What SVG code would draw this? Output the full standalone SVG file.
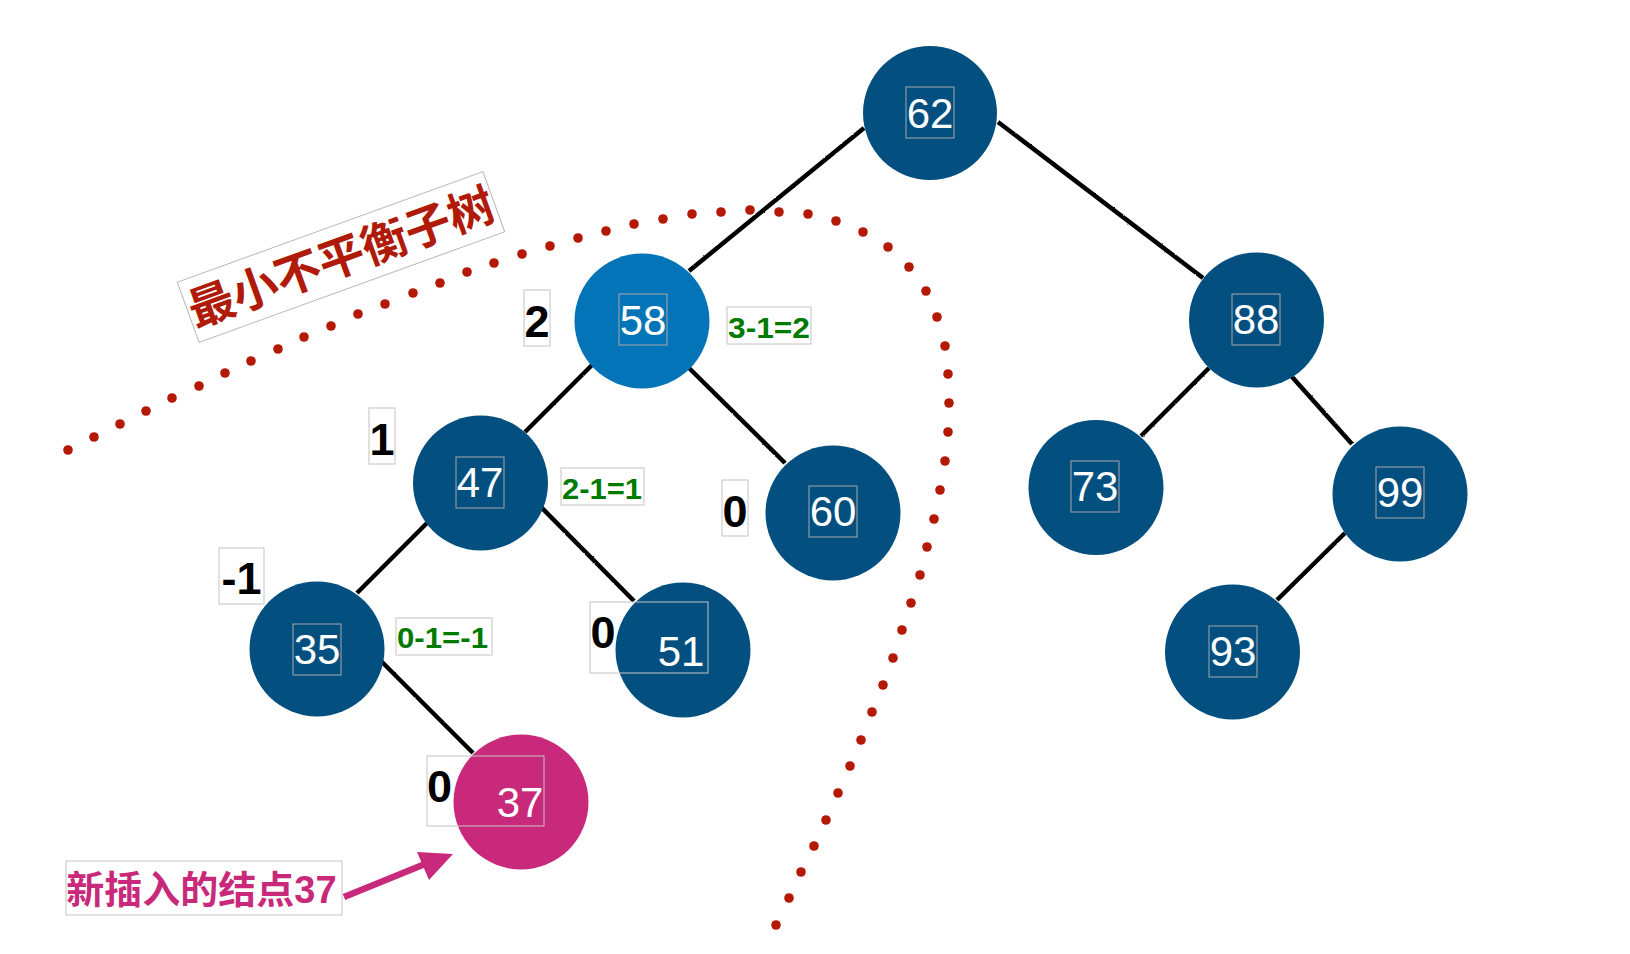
<svg xmlns="http://www.w3.org/2000/svg" width="1630" height="954" viewBox="0 0 1630 954">
<style>
.node{fill:#035080}
.sel{fill:#0274B7}
.newn{fill:#C9297A}
.nbox{fill:none;stroke:#a8a8a8;stroke-width:1}
.lbox{fill:#fff;stroke:#c4c4c4;stroke-width:1}
.lboxn{fill:none;stroke:#c4c4c4;stroke-width:1}
.ntext{font-family:"Liberation Sans","Noto Sans",sans-serif;font-size:42px;fill:#fff;text-anchor:middle}
.bf{font-family:"Liberation Sans","Noto Sans",sans-serif;font-size:45px;font-weight:bold;fill:#000;text-anchor:middle}
.eq{font-family:"Liberation Sans","Noto Sans",sans-serif;font-size:30px;font-weight:bold;fill:#007A00}
.edge{stroke:#000;stroke-width:4.5;stroke-linecap:butt;fill:none}
.dot{fill:#B41905}
</style>
<defs>
<filter id="rough" filterUnits="userSpaceOnUse" x="0" y="0" width="1630" height="954">
<feTurbulence type="fractalNoise" baseFrequency="0.9" numOctaves="1" seed="3" result="n"/>
<feDisplacementMap in="SourceGraphic" in2="n" scale="2" xChannelSelector="R" yChannelSelector="G"/>
</filter>
</defs>
<rect x="0" y="0" width="1630" height="954" fill="#fff"/>

<g id="connectors" filter="url(#rough)">
<line class="edge" x1="864" y1="128" x2="689" y2="271"/>
<line class="edge" x1="998" y1="122" x2="1203" y2="278"/>
<line class="edge" x1="593" y1="364" x2="525" y2="432"/>
<line class="edge" x1="689" y1="368" x2="785" y2="463"/>
<line class="edge" x1="427" y1="523" x2="357" y2="593"/>
<line class="edge" x1="539" y1="505" x2="634" y2="601"/>
<line class="edge" x1="377" y1="657" x2="473" y2="753"/>
<line class="edge" x1="1209" y1="368" x2="1141" y2="436"/>
<line class="edge" x1="1285" y1="369" x2="1352" y2="444"/>
<line class="edge" x1="1345" y1="533" x2="1277" y2="600"/>
</g>

<g id="boundary">
<circle class="dot" r="4.8" cx="68" cy="450"/><circle class="dot" r="4.8" cx="94" cy="437"/><circle class="dot" r="4.8" cx="120" cy="424"/><circle class="dot" r="4.8" cx="146" cy="411"/><circle class="dot" r="4.8" cx="172" cy="398"/><circle class="dot" r="4.8" cx="199" cy="386"/><circle class="dot" r="4.8" cx="225" cy="373"/><circle class="dot" r="4.8" cx="251" cy="361"/><circle class="dot" r="4.8" cx="278" cy="349"/><circle class="dot" r="4.8" cx="304" cy="337"/><circle class="dot" r="4.8" cx="331" cy="326"/><circle class="dot" r="4.8" cx="358" cy="314"/><circle class="dot" r="4.8" cx="385" cy="304"/><circle class="dot" r="4.8" cx="413" cy="293"/><circle class="dot" r="4.8" cx="440" cy="283"/><circle class="dot" r="4.8" cx="467" cy="272"/><circle class="dot" r="4.8" cx="494" cy="263"/><circle class="dot" r="4.8" cx="522" cy="254"/>
<circle class="dot" r="4.8" cx="550" cy="246"/><circle class="dot" r="4.8" cx="578" cy="238"/><circle class="dot" r="4.8" cx="606" cy="231"/><circle class="dot" r="4.8" cx="634" cy="224"/><circle class="dot" r="4.8" cx="663" cy="219"/><circle class="dot" r="4.8" cx="692" cy="214"/><circle class="dot" r="4.8" cx="721" cy="212"/><circle class="dot" r="4.8" cx="750" cy="210"/><circle class="dot" r="4.8" cx="779" cy="212"/><circle class="dot" r="4.8" cx="808" cy="214"/><circle class="dot" r="4.8" cx="836" cy="221"/><circle class="dot" r="4.8" cx="863" cy="232"/><circle class="dot" r="4.8" cx="888" cy="247"/><circle class="dot" r="4.8" cx="909" cy="267"/><circle class="dot" r="4.8" cx="926" cy="291"/><circle class="dot" r="4.8" cx="937" cy="317"/><circle class="dot" r="4.8" cx="945" cy="346"/><circle class="dot" r="4.8" cx="948" cy="374"/><circle class="dot" r="4.8" cx="949" cy="403"/>
<circle class="dot" r="4.8" cx="948" cy="432"/><circle class="dot" r="4.8" cx="945" cy="461"/><circle class="dot" r="4.8" cx="940" cy="490"/><circle class="dot" r="4.8" cx="934" cy="519"/><circle class="dot" r="4.8" cx="927" cy="547"/><circle class="dot" r="4.8" cx="920" cy="575"/><circle class="dot" r="4.8" cx="911" cy="603"/><circle class="dot" r="4.8" cx="902" cy="630"/><circle class="dot" r="4.8" cx="893" cy="658"/>
<circle class="dot" r="4.8" cx="883" cy="685"/><circle class="dot" r="4.8" cx="872" cy="712"/><circle class="dot" r="4.8" cx="861" cy="740"/><circle class="dot" r="4.8" cx="850" cy="766"/><circle class="dot" r="4.8" cx="838" cy="793"/><circle class="dot" r="4.8" cx="826" cy="820"/><circle class="dot" r="4.8" cx="814" cy="846"/><circle class="dot" r="4.8" cx="801" cy="872"/><circle class="dot" r="4.8" cx="789" cy="898"/><circle class="dot" r="4.8" cx="776" cy="925"/>
</g>

<g id="n62"><circle class="node" cx="930" cy="113" r="67"/><rect class="nbox" x="906" y="87" width="48" height="51"/><text class="ntext" x="930" y="128">62</text></g>
<g id="n58"><circle class="sel" cx="642" cy="321" r="67.5"/><rect class="nbox" x="619" y="294" width="48" height="51"/><text class="ntext" x="643" y="335">58</text></g>
<g id="n88"><circle class="node" cx="1256.5" cy="320" r="67.5"/><rect class="nbox" x="1232" y="294" width="48" height="51"/><text class="ntext" x="1256" y="334">88</text></g>
<g id="n47"><circle class="node" cx="480.5" cy="483" r="67.5"/><rect class="nbox" x="456" y="457" width="48" height="51"/><text class="ntext" x="480" y="497">47</text></g>
<g id="n60"><circle class="node" cx="833" cy="513" r="67.5"/><rect class="nbox" x="809" y="486" width="48" height="51"/><text class="ntext" x="833" y="526">60</text></g>
<g id="n73"><circle class="node" cx="1096" cy="487.5" r="67.5"/><rect class="nbox" x="1071" y="461" width="48" height="51"/><text class="ntext" x="1095" y="501">73</text></g>
<g id="n99"><circle class="node" cx="1400" cy="494" r="67.5"/><rect class="nbox" x="1376" y="467" width="48" height="51"/><text class="ntext" x="1400" y="507">99</text></g>
<g id="n35"><circle class="node" cx="317" cy="649" r="67.5"/><rect class="nbox" x="293" y="624" width="48" height="51"/><text class="ntext" x="317" y="664">35</text></g>
<g id="n51"><circle class="node" cx="683" cy="650" r="67.5"/><rect class="lboxn" x="590" y="602" width="118" height="71"/><text class="bf" x="603" y="648">0</text><text class="ntext" x="681" y="666">51</text></g>
<g id="n93"><circle class="node" cx="1232.5" cy="652" r="67.5"/><rect class="nbox" x="1209" y="626" width="48" height="51"/><text class="ntext" x="1233" y="666">93</text></g>
<g id="n37"><circle class="newn" cx="521" cy="802" r="67.5"/><rect class="lboxn" x="427" y="756" width="117" height="70"/><text class="bf" x="439.5" y="802">0</text><text class="ntext" x="520" y="817">37</text></g>

<g id="labels">
<rect class="lbox" x="524" y="290" width="26" height="56"/><text class="bf" x="537" y="337">2</text>
<rect class="lbox" x="727" y="307" width="84" height="37"/><text class="eq" x="728" y="338" textLength="82" lengthAdjust="spacingAndGlyphs">3-1=2</text>
<rect class="lbox" x="369" y="408" width="26" height="56"/><text class="bf" x="382" y="455">1</text>
<rect class="lbox" x="561" y="468" width="83" height="37"/><text class="eq" x="562" y="499" textLength="80" lengthAdjust="spacingAndGlyphs">2-1=1</text>
<rect class="lbox" x="722" y="480" width="26" height="56"/><text class="bf" x="735" y="527">0</text>
<rect class="lbox" x="219" y="548" width="45" height="56"/><text class="bf" x="241.5" y="594">-1</text>
<rect class="lbox" x="396" y="618" width="96" height="37"/><text class="eq" x="397" y="648" textLength="91" lengthAdjust="spacingAndGlyphs">0-1=-1</text>
</g>

<g id="title" transform="translate(341,257) rotate(-19.9)">
<rect x="-162.5" y="-32" width="325" height="64" fill="#fff" stroke="#b8b8b8" stroke-width="1"/>
<text x="0" y="17" text-anchor="middle" font-family="'Liberation Sans','Noto Sans CJK SC',sans-serif" font-size="46" font-weight="bold" fill="#B01A08">最小不平衡子树</text>
</g>

<g id="newnote">
<rect x="66" y="861" width="276" height="54" fill="#fff" stroke="#c4c4c4" stroke-width="1"/>
<text x="201.5" y="903" text-anchor="middle" font-family="'Liberation Sans','Noto Sans CJK SC',sans-serif" font-size="38" font-weight="bold" fill="#C9297A">新插入的结点37</text>
<line x1="344" y1="897" x2="425" y2="864" stroke="#C9297A" stroke-width="6.5"/>
<polygon points="417,852 453,854 429,880" fill="#C9297A"/>
</g>
</svg>
